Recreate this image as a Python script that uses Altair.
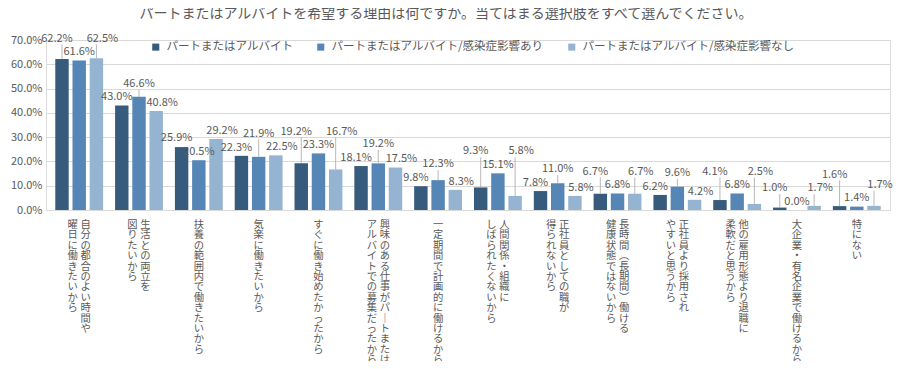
import altair as alt
import pandas as pd

title_text = "パートまたはアルバイトを希望する理由は何ですか。当てはまる選択肢をすべて選んでください。"

series = [
    "パートまたはアルバイト",
    "パートまたはアルバイト/感染症影響あり",
    "パートまたはアルバイト/感染症影響なし",
]

# each category label is a list of vertical text columns (first = rightmost)
categories = [
    ["自分の都合のよい時間や", "曜日に働きたいから"],
    ["生活との両立を", "図りたいから"],
    ["扶養の範囲内で働きたいから"],
    ["気楽に働きたいから"],
    ["すぐに働き始めたかったから"],
    ["興味のある仕事がパートまたは", "アルバイトでの募集だったから"],
    ["一定期間で計画的に働けるから"],
    ["人間関係・組織に", "しばられたくないから"],
    ["正社員としての職が", "得られないから"],
    ["長時間（長期間）働ける", "健康状態ではないから"],
    ["正社員より採用され", "やすいと思うから"],
    ["他の雇用形態より退職に", "柔軟だと思うから"],
    ["大企業・有名企業で働けるから"],
    ["特にない"],
]

values_all = [62.2, 43.0, 25.9, 22.3, 19.2, 18.1, 9.8, 9.3, 7.8, 6.7, 6.2, 4.1, 1.0, 1.6]
values_yes = [61.6, 46.6, 20.5, 21.9, 23.3, 19.2, 12.3, 15.1, 11.0, 6.8, 9.6, 6.8, 0.0, 1.4]
values_no = [62.5, 40.8, 29.2, 22.5, 16.7, 17.5, 8.3, 5.8, 5.8, 6.7, 4.2, 2.5, 1.7, 1.7]

colors = ["#375b7d", "#5586b6", "#95b4d2"]
text_color = "#595959"
font = "Noto Sans CJK JP"

cat_keys = ["".join(c) for c in categories]
vertical_map = {"ー": "｜", "（": "︵", "）": "︶", "、": "︑", "。": "︒"}


def vert(s):
    return "\n".join(vertical_map.get(ch, ch) for ch in s)


# ---- data-label placement (simple collision avoidance, in value units) ----
label_dx = [-5, 0, 6]
GAP = 5.6          # vertical separation needed between overlapping labels
PAD = 3.4          # default distance of label centre above bar top
STEP_PX, OFF_PX = 60.0, 17.2


def lab_w(txt):
    return sum(2.8 if c == "." else 9.4 if c == "%" else 6.3 for c in txt) + 2


def collides(xc, w, pos, others):
    for (ox, ow, op) in others:
        if abs(xc - ox) < (w + ow) / 2 and abs(pos - op) < GAP - 1e-3:
            return (ox, ow, op)
    return None


placed = []
all_pos = []
for i in range(len(categories)):
    vals = [values_all[i], values_yes[i], values_no[i]]
    texts = [f"{v:.1f}%" for v in vals]
    xs = [i * STEP_PX + (s - 1) * OFF_PX + label_dx[s] for s in range(3)]
    ws = [lab_w(t) for t in texts]
    base = [v + PAD for v in vals]
    optA = base[:]
    optA[1] = max(optA[1], max(optA[0], optA[2]) + GAP)
    optB = base[:]
    optB[0] = max(optB[0], optB[1] + GAP)
    optB[2] = max(optB[2], optB[1] + GAP)
    pref, other = (optB, optA) if vals[1] < min(vals[0], vals[2]) else (optA, optB)
    choice = pref
    for opt in (pref, other):
        if not any(collides(xs[s], ws[s], opt[s], placed) for s in range(3)):
            choice = opt
            break
    pos = choice[:]
    group_placed = []
    for s in sorted(range(3), key=lambda k: pos[k]):
        p = pos[s]
        for _ in range(50):
            hit = collides(xs[s], ws[s], p, placed + group_placed)
            if hit is None:
                break
            p = max(p, hit[2] + GAP)
        pos[s] = p
        group_placed.append((xs[s], ws[s], p))
    placed.extend(group_placed)
    all_pos.append(pos)

rows = []
for i, key in enumerate(cat_keys):
    vals = [values_all[i], values_yes[i], values_no[i]]
    for s in range(3):
        p = all_pos[i][s]
        lead = p - vals[s] > PAD + 1.0
        rows.append({
            "cat": key, "series": series[s], "sidx": s, "value": vals[s],
            "label": f"{vals[s]:.1f}%", "pos": p,
            "r1": vals[s] if lead else None,
            "r2": p - 2.4 if lead else None,
        })
df = pd.DataFrame(rows)

cat_rows = []
for key, cols in zip(cat_keys, categories):
    if len(cols) == 1:
        cat_rows.append({"cat": key, "kind": "single", "text": vert(cols[0])})
    else:
        cat_rows.append({"cat": key, "kind": "right", "text": vert(cols[0])})
        cat_rows.append({"cat": key, "kind": "left", "text": vert(cols[1])})
dfc = pd.DataFrame(cat_rows)

W, H = 844, 170

x_enc = alt.X("cat:N", sort=cat_keys,
              scale=alt.Scale(paddingInner=0.2, paddingOuter=0.155), axis=None)
xo_enc = alt.XOffset("series:N", sort=series,
                     scale=alt.Scale(paddingInner=0.22, paddingOuter=0))
y_scale = alt.Scale(domain=[0, 70], nice=False)
y_axis = alt.Axis(values=[0, 10, 20, 30, 40, 50, 60, 70],
                  labelExpr="format(datum.value, '.1f') + '%'",
                  grid=True, gridColor="#d9d9d9", gridWidth=1,
                  ticks=False, domain=False, labelFontSize=11,
                  labelColor=text_color, labelPadding=4, title=None,
                  labelFont=font)

bars = alt.Chart(df).mark_bar().encode(
    x=x_enc,
    xOffset=xo_enc,
    y=alt.Y("value:Q", scale=y_scale, axis=y_axis),
    color=alt.Color("series:N", sort=series,
                    scale=alt.Scale(domain=series, range=colors),
                    legend=alt.Legend(orient="none", legendX=104, legendY=1,
                                      direction="horizontal", title=None,
                                      symbolType="square", symbolSize=50,
                                      symbolStrokeWidth=0,
                                      labelFontSize=11.5, labelColor=text_color,
                                      labelFont=font, columnPadding=22,
                                      labelOffset=5, padding=0, labelLimit=400)),
)

rules = alt.Chart(df).transform_filter("datum.r1 != null").mark_rule(
    color="#a6a6a6", strokeWidth=0.8
).encode(
    x=x_enc, xOffset=xo_enc,
    y=alt.Y("r1:Q", scale=y_scale, axis=y_axis), y2="r2:Q",
)

label_layers = []
for s in range(3):
    label_layers.append(
        alt.Chart(df[df.sidx == s]).mark_text(
            dx=label_dx[s], fontSize=11, color=text_color, baseline="middle", font=font
        ).encode(
            x=x_enc, xOffset=xo_enc,
            y=alt.Y("pos:Q", scale=y_scale, axis=y_axis),
            text="label:N",
        )
    )

cat_layers = []
for kind, dx in [("single", 0), ("right", 6.5), ("left", -6.5)]:
    cat_layers.append(
        alt.Chart(dfc[dfc.kind == kind]).mark_text(
            dx=dx, baseline="top", align="center", lineBreak="\n",
            lineHeight=10.4, fontSize=10.3, color=text_color, font=font
        ).encode(
            x=x_enc,
            y=alt.value(180),
            text="text:N",
        )
    )

chart = alt.layer(bars, rules, *label_layers, *cat_layers).properties(
    width=W, height=H,
    padding={"left": 38, "top": 32, "right": 6, "bottom": 151},
    autosize=alt.AutoSizeParams(type="none"),
    title=alt.TitleParams(text=title_text, fontSize=14, color=text_color,
                          fontWeight="normal", anchor="middle", offset=12,
                          dx=-22, font=font),
).configure_view(stroke=None).configure(font=font)

chart.save("out.html", embed_options={"renderer": "svg", "actions": False})
